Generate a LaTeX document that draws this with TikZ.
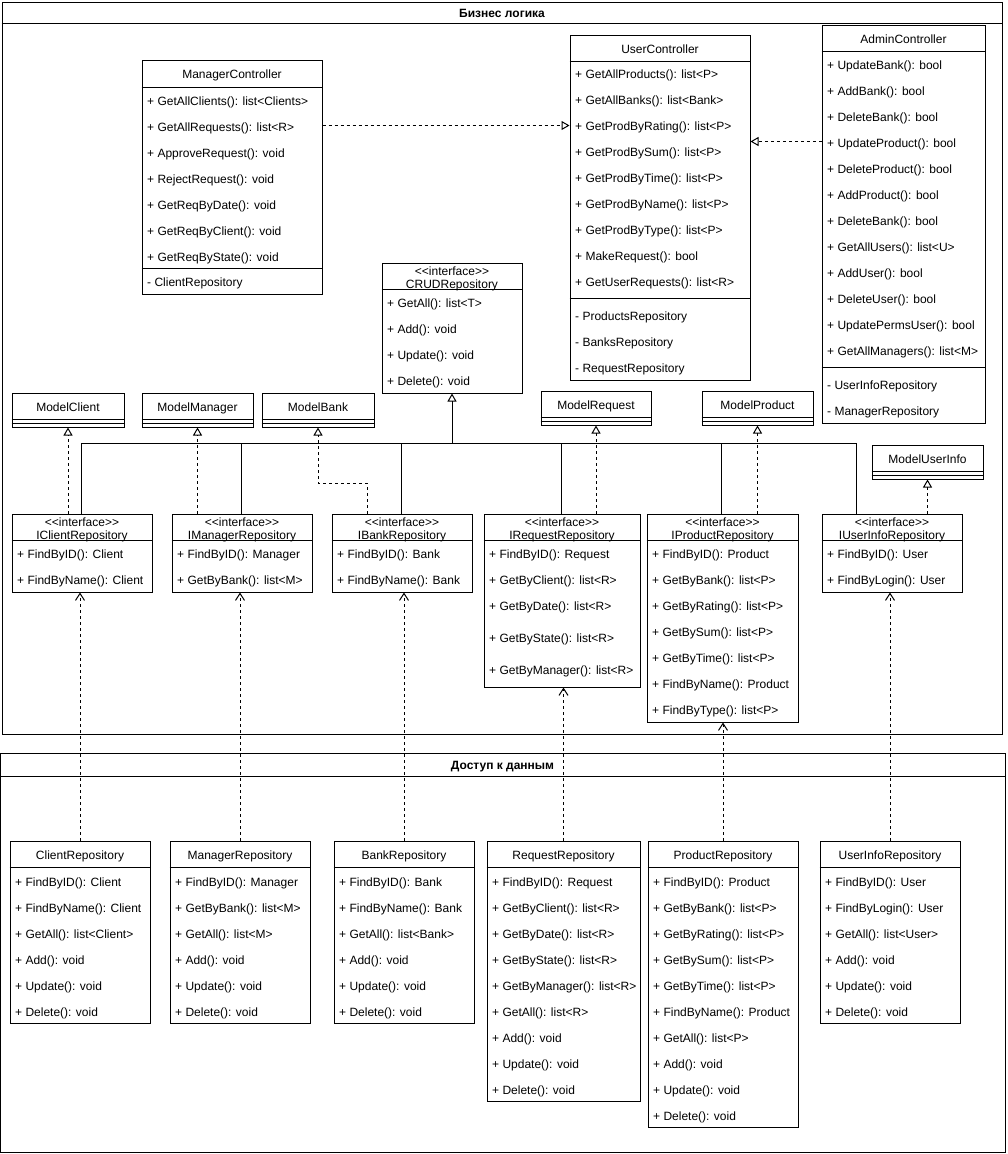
\documentclass[tikz,border=0pt]{standalone}
\usepackage{fontspec}
\setmainfont{Liberation Sans}[Ligatures=TeXOff]
\usetikzlibrary{arrows.meta,fit,calc}
\tikzset{
  box/.style={draw, fill=white, inner sep=0pt, line width=1pt},
  mem/.style={anchor=west, inner sep=0pt, text height=8.6pt, text depth=0pt, yshift=-0.8pt, font=\fontsize{12}{14}\selectfont},
  ttl/.style={anchor=center, inner sep=0pt, text height=8.6pt, text depth=0pt, yshift=-0.8pt, font=\fontsize{12}{14}\selectfont},
  bttl/.style={ttl, font=\fontsize{12}{14}\selectfont\bfseries},
  realz/.style={draw, line width=1pt, dash pattern=on 3pt off 3pt, -{Triangle[open,length=8pt,width=9pt]}},
  gener/.style={draw, line width=1pt, -{Triangle[open,length=8pt,width=9pt]}},
  depend/.style={draw, line width=1pt, dash pattern=on 3pt off 3pt, -{Straight Barb[length=7pt,width=9pt]}},
  busline/.style={draw, line width=1pt},
}
\newcommand\mkbox[5]{\node[box, fit={(#2,#3) (#4,#5)}] (#1) {};}
\newcommand\sepl[2]{\draw[line width=1pt] (#1.west |- 0,#2) -- (#1.east |- 0,#2);}
\newcommand\mems[5]{\foreach \m [count=\i from 0] in {#5} {\node[mem] (#1-\i) at (#2,{#3+#4*\i}) {\m};}}
\newcommand\modelbox[6]{% name x1 y1 x2 y2 title
  \mkbox{#1}{#2}{#3}{#4}{#5}
  \node[ttl] (#1-t) at ({(#2+#4)/2},{#3+13}) {#6};
  \sepl{#1}{#3+26}\sepl{#1}{#3+30}}
\newcommand\ifacehead[5]{% name x1 y1 x2 title
  \node[ttl] (#1-s) at ({(#2+#4)/2},{#3+7}) {<<interface>>};
  \node[ttl] (#1-t) at ({(#2+#4)/2},{#3+20}) {#5};
  \sepl{#1}{#3+26}}
\newcommand\repobox[6]{% name x1 x2 bottom title members
  \mkbox{#1}{#2}{841}{#3}{#4}
  \node[ttl] (#1-t) at ({(#2+#3)/2},854) {#5};
  \sepl{#1}{867}
  \mems{#1m}{#2+5}{881}{26}{#6}}

\begin{document}
\begin{tikzpicture}[x=1pt,y=-1pt]
\useasboundingbox (0,0) rectangle (1007,1154);
% containers
\mkbox{biz}{2}{2}{1002}{734}
\sepl{biz}{23}
\node[bttl] (bizt) at (502,12.5) {Бизнес логика};
\mkbox{dal}{0}{753}{1005}{1152}
\sepl{dal}{776}
\node[bttl] (dalt) at (502.5,764.5) {Доступ к данным};

% ManagerController
\mkbox{mc}{142}{60}{322}{294}
\node[ttl] (mc-t) at (232,73.5) {ManagerController};
\sepl{mc}{87}
\mems{mcm}{147}{100}{26}{+ GetAllClients(): list<Clients>, + GetAllRequests(): list<R>, + ApproveRequest(): void, + RejectRequest(): void, + GetReqByDate(): void, + GetReqByClient(): void, + GetReqByState(): void}
\sepl{mc}{268}
\mems{mca}{147}{281}{26}{- ClientRepository}

% UserController
\mkbox{uc}{570}{35}{750}{380}
\node[ttl] (uc-t) at (660,48) {UserController};
\sepl{uc}{61}
\mems{ucm}{575}{73}{26}{+ GetAllProducts(): list<P>, + GetAllBanks(): list<Bank>, + GetProdByRating(): list<P>, + GetProdBySum(): list<P>, + GetProdByTime(): list<P>, + GetProdByName(): list<P>, + GetProdByType(): list<P>, + MakeRequest(): bool, + GetUserRequests(): list<R>}
\sepl{uc}{298}
\mems{uca}{575}{315}{26}{- ProductsRepository, - BanksRepository, - RequestRepository}

% AdminController
\mkbox{admin}{822}{25}{985}{423}
\node[ttl] (admin-t) at (903.5,38) {AdminController};
\sepl{admin}{51}
\mems{adm}{827}{64}{26}{+ UpdateBank(): bool, + AddBank(): bool, + DeleteBank(): bool, + UpdateProduct(): bool, + DeleteProduct(): bool, + AddProduct(): bool, + DeleteBank(): bool, + GetAllUsers(): list<U>, + AddUser(): bool, + DeleteUser(): bool, + UpdatePermsUser(): bool, + GetAllManagers(): list<M>}
\sepl{admin}{367}
\mems{ada}{827}{384}{26}{- UserInfoRepository, - ManagerRepository}

% CRUDRepository
\mkbox{crud}{382}{263}{522}{393}
\ifacehead{crud}{382}{263}{522}{CRUDRepository}
\mems{crudm}{387}{302}{26}{+ GetAll(): list<T>, + Add(): void, + Update(): void, + Delete(): void}

% Models
\modelbox{mclient}{12}{393}{124}{427}{ModelClient}
\modelbox{mmanager}{142}{393}{253}{427}{ModelManager}
\modelbox{mbank}{262}{393}{374}{427}{ModelBank}
\modelbox{mrequest}{541}{391}{651}{425}{ModelRequest}
\modelbox{mproduct}{702}{391}{813}{425}{ModelProduct}
\modelbox{muser}{872}{445}{983}{479}{ModelUserInfo}

% Interfaces
\mkbox{iclient}{12}{514}{152}{592}
\ifacehead{iclient}{12}{514}{152}{IClientRepository}
\mems{iclientm}{17}{553}{26}{+ FindByID(): Client, + FindByName(): Client}
\mkbox{imanager}{172}{514}{312}{592}
\ifacehead{imanager}{172}{514}{312}{IManagerRepository}
\mems{imanagerm}{177}{553}{26}{+ FindByID(): Manager, + GetByBank(): list<M>}
\mkbox{ibank}{332}{514}{472}{592}
\ifacehead{ibank}{332}{514}{472}{IBankRepository}
\mems{ibankm}{337}{553}{26}{+ FindByID(): Bank, + FindByName(): Bank}
\mkbox{irequest}{484}{514}{640}{687}
\ifacehead{irequest}{484}{514}{640}{IRequestRepository}
\mems{irequestm}{489}{553}{26}{+ FindByID(): Request, + GetByClient(): list<R>, + GetByDate(): list<R>}
\mems{irequestn}{489}{637}{32}{+ GetByState(): list<R>, + GetByManager(): list<R>}
\mkbox{iproduct}{647}{514}{798}{722}
\ifacehead{iproduct}{647}{514}{798}{IProductRepository}
\mems{iproductm}{652}{553}{26}{+ FindByID(): Product, + GetByBank(): list<P>, + GetByRating(): list<P>, + GetBySum(): list<P>, + GetByTime(): list<P>, + FindByName(): Product, + FindByType(): list<P>}
\mkbox{iuser}{822}{514}{962}{592}
\ifacehead{iuser}{822}{514}{962}{IUserInfoRepository}
\mems{iuserm}{827}{553}{26}{+ FindByID(): User, + FindByLogin(): User}

% Repositories
\repobox{crepo}{10}{150}{1023}{ClientRepository}{+ FindByID(): Client, + FindByName(): Client, + GetAll(): list<Client>, + Add(): void, + Update(): void, + Delete(): void}
\repobox{mrepo}{170}{310}{1023}{ManagerRepository}{+ FindByID(): Manager, + GetByBank(): list<M>, + GetAll(): list<M>, + Add(): void, + Update(): void, + Delete(): void}
\repobox{brepo}{334}{474}{1023}{BankRepository}{+ FindByID(): Bank, + FindByName(): Bank, + GetAll(): list<Bank>, + Add(): void, + Update(): void, + Delete(): void}
\repobox{rrepo}{487}{640}{1101}{RequestRepository}{+ FindByID(): Request, + GetByClient(): list<R>, + GetByDate(): list<R>, + GetByState(): list<R>, + GetByManager(): list<R>, + GetAll(): list<R>, + Add(): void, + Update(): void, + Delete(): void}
\repobox{prepo}{648}{798}{1127}{ProductRepository}{+ FindByID(): Product, + GetByBank(): list<P>, + GetByRating(): list<P>, + GetBySum(): list<P>, + GetByTime(): list<P>, + FindByName(): Product, + GetAll(): list<P>, + Add(): void, + Update(): void, + Delete(): void}
\repobox{urepo}{820}{960}{1023}{UserInfoRepository}{+ FindByID(): User, + FindByLogin(): User, + GetAll(): list<User>, + Add(): void, + Update(): void, + Delete(): void}

% controller realizations
\coordinate (m1) at ([yshift=-66pt]mc.north east);
\draw[realz] (m1) -- (m1 -| uc.west);
\coordinate (a1) at ([yshift=-117pt]admin.north west);
\draw[realz] (a1) -- (a1 -| uc.east);

% bus to CRUD
\coordinate (busc) at (crud.south |- 0,443);
\draw[gener] (busc) -- (crud.south);
\draw[busline] ([xshift=70pt]iclient.north west) |- (busc);
\draw[busline] ([xshift=70pt]imanager.north west) |- (busc);
\draw[busline] ([xshift=70pt]ibank.north west) |- (busc);
\draw[busline] ([xshift=78pt]irequest.north west) |- (busc);
\draw[busline] ([xshift=75pt]iproduct.north west) |- (busc);
\draw[busline] ([xshift=35pt]iuser.north west) |- (busc);

% interfaces to models
\draw[realz] (mclient.south |- iclient.north) -- (mclient.south);
\draw[realz] (mmanager.south |- imanager.north) -- (mmanager.south);
\coordinate (b1) at ([xshift=36pt]ibank.north west);
\draw[realz] (b1) |- ([yshift=-56pt]mbank.south) -- (mbank.south);
\draw[realz] (mrequest.south |- irequest.north) -- (mrequest.south);
\draw[realz] (mproduct.south |- iproduct.north) -- (mproduct.south);
\draw[realz] (muser.south |- iuser.north) -- (muser.south);

% repositories to interfaces
\draw[depend] (crepo.north) -- (crepo.north |- iclient.south);
\draw[depend] (mrepo.north) -- (mrepo.north |- imanager.south);
\draw[depend] (brepo.north) -- (brepo.north |- ibank.south);
\draw[depend] (rrepo.north) -- (rrepo.north |- irequest.south);
\draw[depend] (prepo.north) -- (prepo.north |- iproduct.south);
\draw[depend] (urepo.north) -- (urepo.north |- iuser.south);
\end{tikzpicture}
\end{document}
